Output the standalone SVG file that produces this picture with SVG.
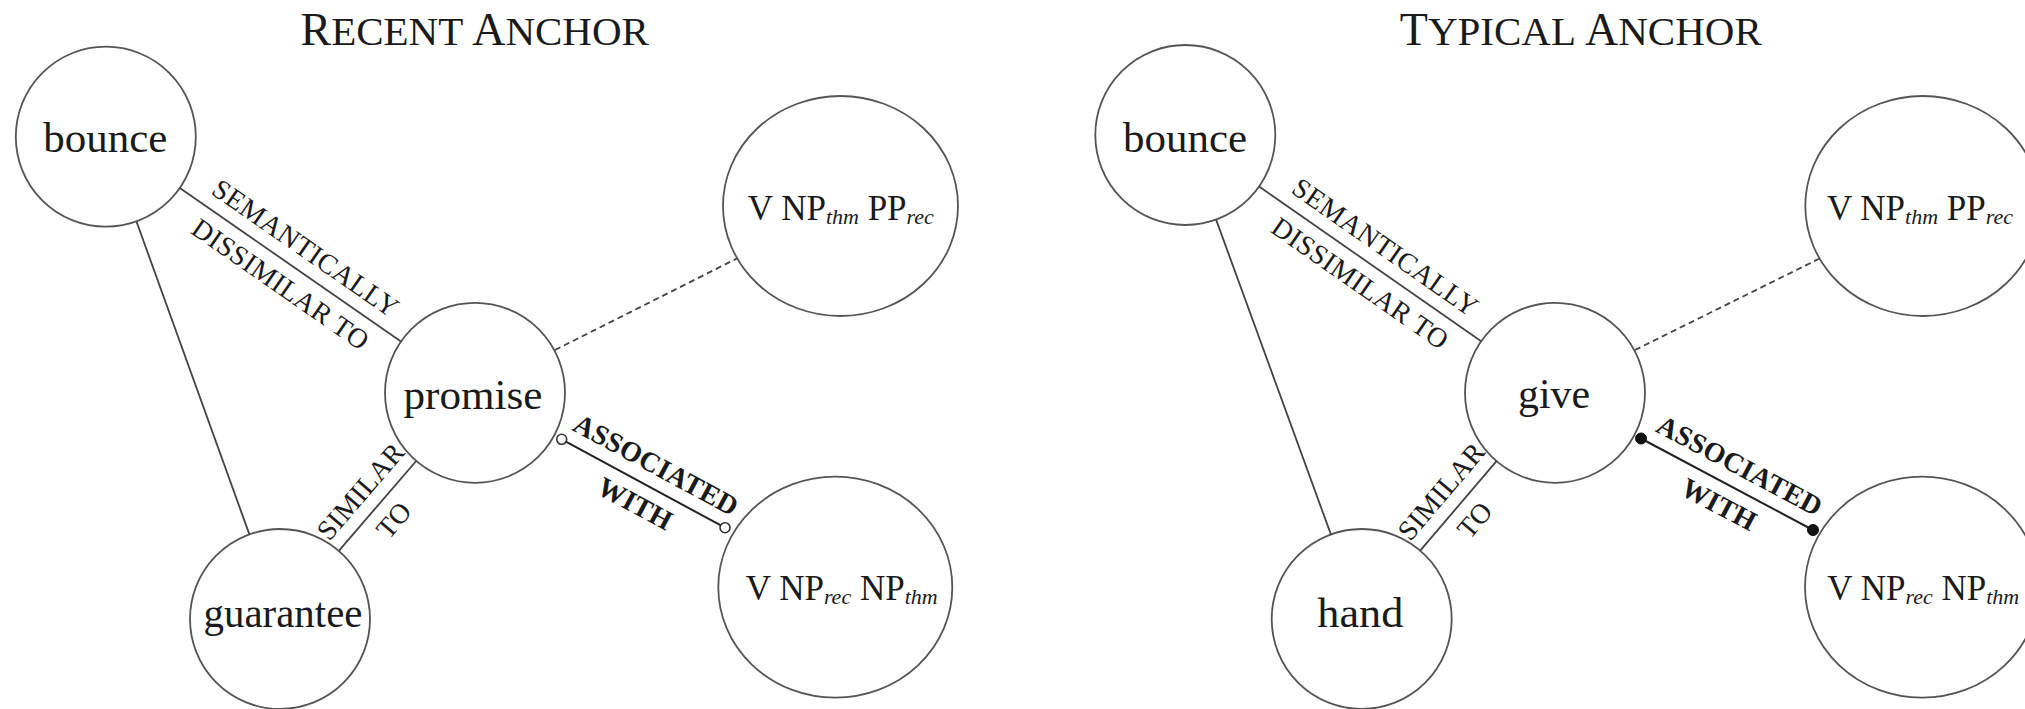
<svg xmlns="http://www.w3.org/2000/svg" width="2025" height="709" viewBox="0 0 2025 709">
<style>
text { font-family: "Liberation Serif", "Times New Roman", serif; fill: #1a1a1a; }
.node { fill: #fff; stroke: #555; stroke-width: 1.8; }
.nt { font-size: 43px; text-anchor: middle; }
.vt { font-size: 35px; text-anchor: middle; }
.sub { font-size: 22px; font-style: italic; }
.title { font-size: 46px; text-anchor: middle; }
.sc { font-size: 41px; }
.edge { stroke: #444; stroke-width: 1.8; fill: none; }
.dash { stroke-dasharray: 6 4; }
.el { font-size: 28px; text-anchor: middle; letter-spacing: 0.4px; }
.eb { font-size: 28px; font-weight: bold; text-anchor: middle; letter-spacing: 0.3px; }
.open { fill: #fff; stroke: #333; stroke-width: 1.6; }
.filled { fill: #111; stroke: #111; stroke-width: 1; }
</style>

<g id="titles">
  <text class="title" x="474.7" y="45">R<tspan class="sc">ECENT</tspan> A<tspan class="sc">NCHOR</tspan></text>
  <text class="title" x="1580.8" y="45">T<tspan class="sc">YPICAL</tspan> A<tspan class="sc">NCHOR</tspan></text>
</g>

<!-- Left panel nodes -->
<g id="bounce-recent">
  <circle class="node" cx="105.8" cy="136.7" r="90"/>
  <text class="nt" x="105.3" y="151.7" textLength="124" lengthAdjust="spacingAndGlyphs">bounce</text>
</g>
<g id="promise">
  <circle class="node" cx="475" cy="392.8" r="90"/>
  <text class="nt" x="473" y="408.5" textLength="139" lengthAdjust="spacingAndGlyphs">promise</text>
</g>
<g id="guarantee">
  <circle class="node" cx="280" cy="619" r="90"/>
  <text class="nt" x="283" y="626.7" textLength="159" lengthAdjust="spacingAndGlyphs">guarantee</text>
</g>
<g id="vnp-thm-pp-rec-recent">
  <ellipse class="node" cx="840.5" cy="206" rx="117.5" ry="110"/>
  <text class="vt" x="840.8" y="220">V NP<tspan class="sub" dy="4">thm</tspan><tspan dy="-4"> PP</tspan><tspan class="sub" dy="4">rec</tspan></text>
</g>
<g id="vnp-rec-np-thm-recent">
  <ellipse class="node" cx="835.3" cy="587.2" rx="117" ry="110.5"/>
  <text class="vt" x="841.7" y="600">V NP<tspan class="sub" dy="4">rec</tspan><tspan dy="-4"> NP</tspan><tspan class="sub" dy="4">thm</tspan></text>
</g>

<!-- Right panel nodes -->
<g id="bounce-typical">
  <circle class="node" cx="1185.3" cy="135" r="90"/>
  <text class="nt" x="1185" y="151.7" textLength="124" lengthAdjust="spacingAndGlyphs">bounce</text>
</g>
<g id="give">
  <circle class="node" cx="1555" cy="392.8" r="90"/>
  <text class="nt" x="1554" y="408.3" textLength="72" lengthAdjust="spacingAndGlyphs">give</text>
</g>
<g id="hand">
  <circle class="node" cx="1361.7" cy="619" r="90"/>
  <text class="nt" x="1360.3" y="626.7" textLength="86" lengthAdjust="spacingAndGlyphs">hand</text>
</g>
<g id="vnp-thm-pp-rec-typical">
  <ellipse class="node" cx="1922.8" cy="206" rx="117.5" ry="110"/>
  <text class="vt" x="1920" y="220">V NP<tspan class="sub" dy="4">thm</tspan><tspan dy="-4"> PP</tspan><tspan class="sub" dy="4">rec</tspan></text>
</g>
<g id="vnp-rec-np-thm-typical">
  <ellipse class="node" cx="1922" cy="587.2" rx="117" ry="110.5"/>
  <text class="vt" x="1923.3" y="600">V NP<tspan class="sub" dy="4">rec</tspan><tspan dy="-4"> NP</tspan><tspan class="sub" dy="4">thm</tspan></text>
</g>

<g id="connectors">
  <!-- left panel -->
  <line class="edge" x1="179.8" y1="188" x2="401" y2="341.5"/>
  <line class="edge" x1="136.4" y1="221.3" x2="249.4" y2="534.4"/>
  <line class="edge" x1="416.2" y1="461" x2="338.8" y2="550.8"/>
  <line class="edge dash" x1="555" y1="350" x2="737.3" y2="258.3"/>
  <line class="edge" x1="561.7" y1="439.3" x2="725" y2="527.7" style="stroke:#222;stroke-width:2"/>
  <circle class="open" cx="561.7" cy="439.3" r="5"/>
  <circle class="open" cx="725" cy="527.7" r="5"/>

  <g transform="translate(292.9,266.5) rotate(34.76)">
    <text class="el" x="0" y="-13">SEMANTICALLY</text>
    <text class="el" x="0" y="31">DISSIMILAR TO</text>
  </g>
  <g transform="translate(377.5,505.9) rotate(-49.24)">
    <text class="el" x="0" y="-13">SIMILAR</text>
    <text class="el" x="0" y="31">TO</text>
  </g>
  <g transform="translate(645.5,484.7) rotate(28.42)">
    <text class="eb" x="0" y="-13">ASSOCIATED</text>
    <text class="eb" x="0" y="31">WITH</text>
  </g>

  <!-- right panel -->
  <line class="edge" x1="1259.1" y1="186.5" x2="1481.2" y2="341.3"/>
  <line class="edge" x1="1216.1" y1="219.6" x2="1330.9" y2="534.4"/>
  <line class="edge" x1="1496.5" y1="461.2" x2="1420.2" y2="550.6"/>
  <line class="edge dash" x1="1635" y1="350" x2="1820" y2="258.3"/>
  <line class="edge" x1="1641" y1="438.5" x2="1813" y2="530" style="stroke:#222;stroke-width:2"/>
  <circle class="filled" cx="1641" cy="438.5" r="5.5"/>
  <circle class="filled" cx="1813" cy="530" r="5.5"/>

  <g transform="translate(1372.6,265.6) rotate(34.88)">
    <text class="el" x="0" y="-13">SEMANTICALLY</text>
    <text class="el" x="0" y="31">DISSIMILAR TO</text>
  </g>
  <g transform="translate(1458.35,505.9) rotate(-49.52)">
    <text class="el" x="0" y="-13">SIMILAR</text>
    <text class="el" x="0" y="31">TO</text>
  </g>
  <g transform="translate(1729.2,485.4) rotate(28.01)">
    <text class="eb" x="0" y="-13">ASSOCIATED</text>
    <text class="eb" x="0" y="31">WITH</text>
  </g>
</g>
</svg>
